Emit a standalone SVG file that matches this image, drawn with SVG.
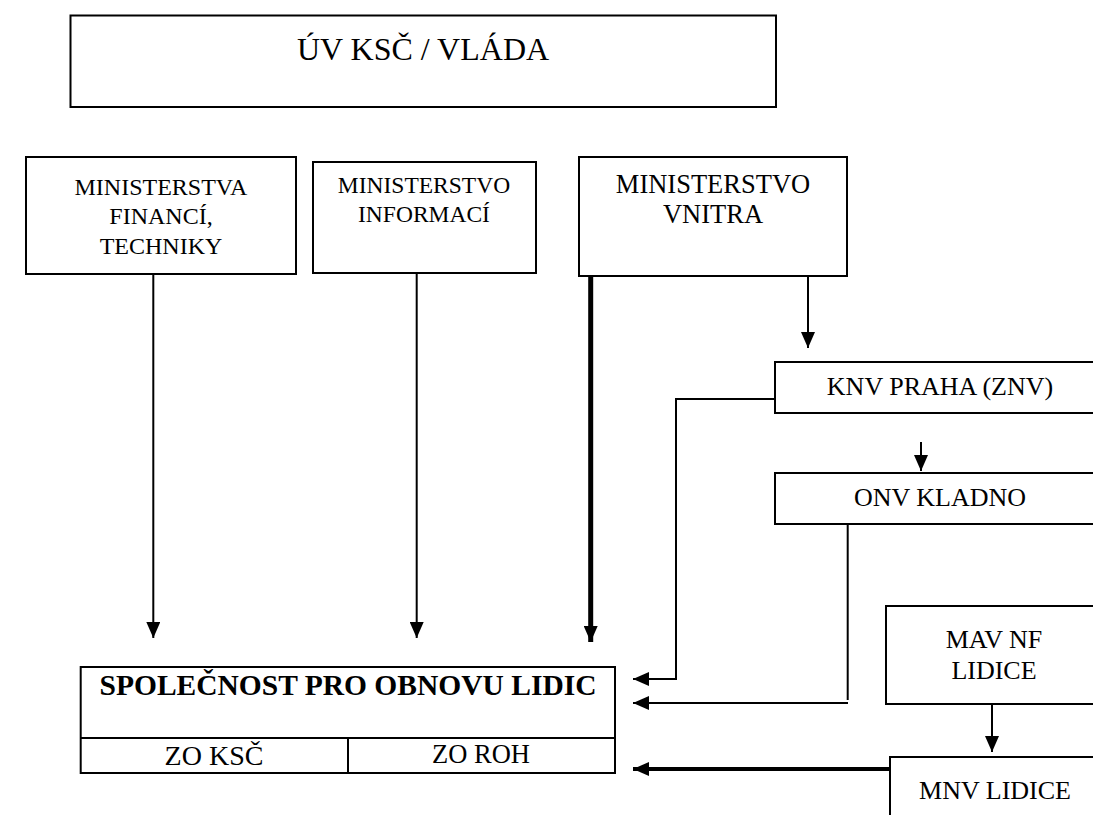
<svg xmlns="http://www.w3.org/2000/svg" width="1093" height="815" viewBox="0 0 1093 815">
<style>
.box{fill:#fff;stroke:#000;stroke-width:2}
.t{font-family:"Liberation Serif","Times New Roman",serif;fill:#000;text-anchor:middle}
.ln{fill:none;stroke:#000;stroke-width:2}
.thick{fill:none;stroke:#000;stroke-width:5}
</style>
<defs>
<marker id="ah" markerUnits="userSpaceOnUse" markerWidth="16" markerHeight="14" refX="16" refY="7" orient="auto">
<path d="M0,0 L16,7 L0,14 z" fill="#000"/>
</marker>
</defs>
<rect width="1093" height="815" fill="#fff"/>
<g id="connectors">
<line class="ln" x1="153.3" y1="274" x2="153.3" y2="638" marker-end="url(#ah)"/>
<line class="ln" x1="416.7" y1="273" x2="416.7" y2="638" marker-end="url(#ah)"/>
<line class="thick" x1="590.7" y1="276" x2="590.7" y2="642" marker-end="url(#ah)"/>
<line class="ln" x1="808" y1="276" x2="808" y2="348" marker-end="url(#ah)"/>
<line class="ln" x1="921" y1="442" x2="921" y2="471" marker-end="url(#ah)"/>
<polyline class="ln" points="775,399 676,399 676,679 633,679" marker-end="url(#ah)"/>
<line class="ln" x1="847.7" y1="524" x2="847.7" y2="700"/>
<line class="ln" x1="848" y1="703" x2="633" y2="703" marker-end="url(#ah)"/>
<line class="ln" x1="992" y1="704" x2="992" y2="752" marker-end="url(#ah)"/>
<line class="thick" style="stroke-width:4" x1="890" y1="769" x2="633" y2="769" marker-end="url(#ah)"/>
</g>
<g id="uv-ksc">
<rect class="box" x="70.5" y="15.5" width="705.5" height="91.5"/>
<text class="t" x="423" y="60" font-size="32">ÚV KSČ / VLÁDA</text>
</g>
<g id="min-financi">
<rect class="box" x="26" y="157" width="270" height="117"/>
<text class="t" font-size="24"><tspan x="161" y="195">MINISTERSTVA</tspan><tspan x="161" y="224">FINANCÍ,</tspan><tspan x="161" y="254">TECHNIKY</tspan></text>
</g>
<g id="min-informaci">
<rect class="box" x="313" y="162" width="223" height="111"/>
<text class="t" font-size="23.5"><tspan x="424" y="193">MINISTERSTVO</tspan><tspan x="424" y="222">INFORMACÍ</tspan></text>
</g>
<g id="min-vnitra">
<rect class="box" x="579" y="157" width="268" height="119"/>
<text class="t" font-size="26.5"><tspan x="713" y="193">MINISTERSTVO</tspan><tspan x="713" y="223">VNITRA</tspan></text>
</g>
<g id="knv">
<rect class="box" x="775" y="362" width="330" height="51"/>
<text class="t" x="940" y="395" font-size="26">KNV PRAHA (ZNV)</text>
</g>
<g id="onv">
<rect class="box" x="775" y="473" width="330" height="51"/>
<text class="t" x="940" y="506" font-size="26">ONV KLADNO</text>
</g>
<g id="mav">
<rect class="box" x="886" y="606" width="216" height="98"/>
<text class="t" font-size="26"><tspan x="994" y="648">MAV NF</tspan><tspan x="994" y="679">LIDICE</tspan></text>
</g>
<g id="mnv">
<rect class="box" x="890" y="757" width="210" height="70"/>
<text class="t" x="995" y="799" font-size="26">MNV LIDICE</text>
</g>
<g id="spolecnost">
<rect class="box" x="80.7" y="667" width="534.3" height="106"/>
<line class="ln" x1="80.7" y1="738" x2="615" y2="738"/>
<line class="ln" x1="348" y1="738" x2="348" y2="773"/>
<text class="t" x="348" y="695" font-size="29.5" font-weight="bold">SPOLEČNOST PRO OBNOVU LIDIC</text>
<text class="t" x="214" y="765" font-size="28">ZO KSČ</text>
<text class="t" x="481" y="763" font-size="26.5">ZO ROH</text>
</g>
</svg>
